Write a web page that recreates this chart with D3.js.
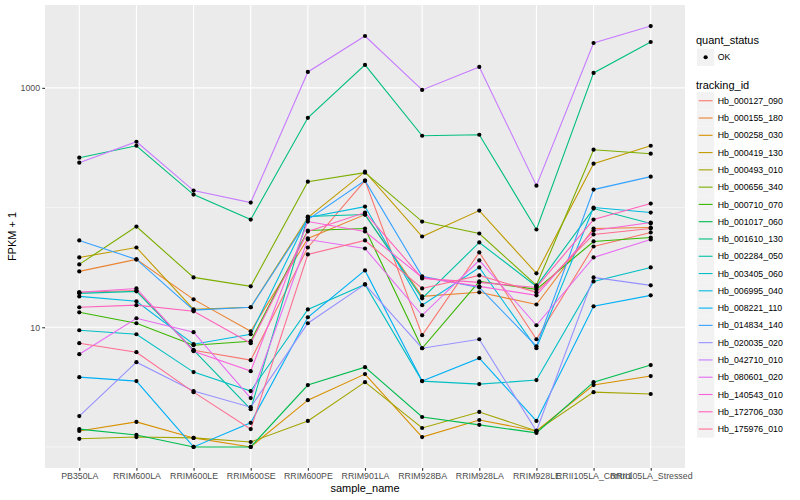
<!DOCTYPE html>
<html>
<head>
<meta charset="utf-8">
<script src="https://cdn.jsdelivr.net/npm/d3@7/dist/d3.min.js"></script>
<style>
body { margin: 0; background: #ffffff; }
text { font-family: "Liberation Sans", Arial, Helvetica, sans-serif; }
</style>
</head>
<body>
<div id="canvas"></div>
<script>
// sample names on the x axis
var sampleNames = ["PB350LA", "RRIM600LA", "RRIM600LE", "RRIM600SE", "RRIM600PE", "RRIM901LA",
    "RRIM928BA", "RRIM928LA", "RRIM928LE", "RRII105LA_Control", "RRII105LA_Stressed"];

// tracking ids (legend order) and their ggplot hue colours
var trackingIds = ["Hb_000127_090", "Hb_000155_180", "Hb_000258_030", "Hb_000419_130", "Hb_000493_010",
    "Hb_000656_340", "Hb_000710_070", "Hb_001017_060", "Hb_001610_130", "Hb_002284_050",
    "Hb_003405_060", "Hb_006995_040", "Hb_008221_110", "Hb_014834_140", "Hb_020035_020",
    "Hb_042710_010", "Hb_080601_020", "Hb_140543_010", "Hb_172706_030", "Hb_175976_010"];
var trackingColors = ["#F8766D", "#EA8331", "#D89000", "#C09B00", "#A3A500",
    "#7CAE00", "#39B600", "#00BB4E", "#00BF7D", "#00C1A3",
    "#00BFC4", "#00BAE0", "#00B0F6", "#35A2FF", "#9590FF",
    "#C77CFF", "#E76BF3", "#FA62DB", "#FF62BC", "#FF6C91"];

// FPKM per sample (same order as sampleNames)
var fpkm_000127_090 = [18.6, 19.3, 5.43, 4.31, 45.4, 166.9, 7.58, 41.2, 6.94, 46.3, 60.9];
var fpkm_000155_180 = [28.3, 35.9, 16.1, 8.26, 54.2, 86.4, 17.1, 18.6, 14.5, 65.8, 67.1];
var fpkm_000258_030 = [0.36, 0.62, 0.19, 0, 1.46, 3.06, 0.21, 0.68, 0.36, 2.29, 2.91];
var fpkm_000419_130 = [37.3, 45.4, 13.1, 13.7, 81.5, 198.5, 56.3, 93.4, 27.2, 231.6, 327.5];
var fpkm_000493_010 = [0.17, 0.21, 0.19, 0.10, 0.65, 2.48, 0.44, 0.96, 0.36, 1.87, 1.77];
var fpkm_000656_340 = [32.5, 68.4, 25.1, 20.96, 163.7, 194.7, 75.4, 59.7, 21.4, 303.3, 280.8];
var fpkm_000710_070 = [12.34, 9.8, 6.08, 6.65, 63.3, 65.8, 5.68, 23.17, 19.72, 51.1, 55.2];
var fpkm_001017_060 = [0.41, 0.26, 0, 0, 2.29, 3.64, 0.78, 0.53, 0.31, 2.48, 3.83];
var fpkm_001610_130 = [260, 327.5, 127.3, 78.4, 561, 1554, 397, 405, 64.6, 1332, 2416];
var fpkm_002284_050 = [18.2, 18.95, 5.43, 1.07, 83.1, 86.4, 16.44, 50.1, 20.96, 97.1, 72.6];
var fpkm_003405_060 = [8.44, 7.74, 3.22, 1.93, 13.1, 21.8, 2.55, 2.35, 2.62, 23.17, 30.62];
var fpkm_006995_040 = [17.1, 15.5, 6.22, 7.74, 81.5, 100.9, 14.3, 30.62, 5.68, 99, 89.9];
var fpkm_008221_110 = [2.83, 2.55, 0, 0.59, 11.12, 28.85, 2.55, 4.52, 0.65, 13.96, 17.48];
var fpkm_014834_140 = [52.1, 35.9, 12.9, 13.7, 78.4, 166.9, 25.6, 20.5, 5.94, 140.3, 180.3];
var fpkm_020035_020 = [0.81, 4.11, 1.93, 1.15, 9.8, 21.8, 5.68, 6.94, 0.36, 25.1, 21.4];
var fpkm_042710_010 = [236.1, 353.8, 137.6, 109.1, 1358, 2711, 961, 1495, 151.5, 2370, 3284];
var fpkm_080601_020 = [4.96, 10.89, 8.09, 1.56, 53.1, 44.5, 11.59, 35.2, 9.39, 37.3, 53.1];
var fpkm_140543_010 = [18.6, 20.1, 5.31, 3.3, 75.4, 62.1, 25.1, 20.96, 17.48, 63.3, 74];
var fpkm_172706_030 = [13.7, 14.3, 12.6, 6.36, 62.1, 89.9, 24.6, 22.7, 20.5, 78.4, 107];
var fpkm_175976_010 = [6.36, 5.19, 1.87, 0.41, 39.6, 52.1, 20.1, 26.1, 18.6, 58.6, 65.8];

var fpkmList = [fpkm_000127_090, fpkm_000155_180, fpkm_000258_030, fpkm_000419_130, fpkm_000493_010,
    fpkm_000656_340, fpkm_000710_070, fpkm_001017_060, fpkm_001610_130, fpkm_002284_050,
    fpkm_003405_060, fpkm_006995_040, fpkm_008221_110, fpkm_014834_140, fpkm_020035_020,
    fpkm_042710_010, fpkm_080601_020, fpkm_140543_010, fpkm_172706_030, fpkm_175976_010];

// y axis breaks
var majorBreaks = [10, 1000];
var minorBreaks = [1, 100, 10000];
var quantStatus = ["OK"];

// layout
var WIDTH = 800, HEIGHT = 500;
var PANEL = { left: 45, right: 685, top: 5, bottom: 468 };
var AXIS_TEXT = "#4D4D4D";
var KEY_SIZE = 17.28;

window.onload = function () {
    var svg = d3.select("#canvas").append("svg")
        .attr("width", WIDTH)
        .attr("height", HEIGHT);

    // series: one entry per tracking id, value = FPKM + 1
    var series = trackingIds.map(function (id, i) {
        return {
            id: id,
            color: trackingColors[i],
            values: fpkmList[i].map(function (v, j) { return { sample: sampleNames[j], value: v + 1 }; })
        };
    });

    // ggplot style 5% expansion on log scale
    var all = [];
    series.forEach(function (s) { s.values.forEach(function (d) { all.push(d.value); }); });
    var ext = d3.extent(all);
    var lo = Math.log10(ext[0]), hi = Math.log10(ext[1]);
    var pad = (hi - lo) * 0.05;

    var x = d3.scalePoint()
        .domain(sampleNames)
        .range([PANEL.left, PANEL.right])
        .padding(0.6);
    var y = d3.scaleLog()
        .domain([Math.pow(10, lo - pad), Math.pow(10, hi + pad)])
        .range([PANEL.bottom, PANEL.top]);
    var yDomain = y.domain();

    // panel background
    svg.append("rect")
        .attr("x", PANEL.left)
        .attr("y", PANEL.top)
        .attr("width", PANEL.right - PANEL.left)
        .attr("height", PANEL.bottom - PANEL.top)
        .attr("fill", "#EBEBEB");

    // grid lines
    svg.append("g").selectAll("line")
        .data(minorBreaks.filter(function (b) { return b >= yDomain[0] && b <= yDomain[1]; }))
        .enter().append("line")
        .attr("x1", PANEL.left).attr("x2", PANEL.right)
        .attr("y1", function (d) { return y(d); })
        .attr("y2", function (d) { return y(d); })
        .attr("stroke", "#FFFFFF")
        .attr("stroke-width", 0.55);
    svg.append("g").selectAll("line")
        .data(majorBreaks)
        .enter().append("line")
        .attr("x1", PANEL.left).attr("x2", PANEL.right)
        .attr("y1", function (d) { return y(d); })
        .attr("y2", function (d) { return y(d); })
        .attr("stroke", "#FFFFFF")
        .attr("stroke-width", 1.1);
    svg.append("g").selectAll("line")
        .data(sampleNames)
        .enter().append("line")
        .attr("x1", function (d) { return x(d); })
        .attr("x2", function (d) { return x(d); })
        .attr("y1", PANEL.top).attr("y2", PANEL.bottom)
        .attr("stroke", "#FFFFFF")
        .attr("stroke-width", 1.1);

    // lines
    var line = d3.line()
        .x(function (d) { return x(d.sample); })
        .y(function (d) { return y(d.value); });
    svg.append("g").selectAll("path")
        .data(series)
        .enter().append("path")
        .attr("d", function (s) { return line(s.values); })
        .attr("fill", "none")
        .attr("stroke", function (s) { return s.color; })
        .attr("stroke-width", 1.1);

    // points (quant_status = OK, black)
    series.forEach(function (s) {
        svg.append("g").selectAll("circle")
            .data(s.values)
            .enter().append("circle")
            .attr("cx", function (d) { return x(d.sample); })
            .attr("cy", function (d) { return y(d.value); })
            .attr("r", 2.1)
            .attr("fill", "#000000");
    });

    // axes
    var yAxis = svg.append("g")
        .attr("transform", "translate(" + PANEL.left + ",0)")
        .call(d3.axisLeft(y).tickValues(majorBreaks).tickFormat(d3.format("d")).tickSize(2.75).tickPadding(2.2));
    var xAxis = svg.append("g")
        .attr("transform", "translate(0," + PANEL.bottom + ")")
        .call(d3.axisBottom(x).tickSize(2.75).tickPadding(2.2));
    [yAxis, xAxis].forEach(function (a) {
        a.select(".domain").remove();
        a.selectAll(".tick line").attr("stroke", "#333333").attr("stroke-width", 1.1);
        a.selectAll(".tick text")
            .attr("fill", AXIS_TEXT)
            .style("font-size", "8.8px")
            .style("font-family", "'Liberation Sans', Arial, sans-serif");
    });

    // axis titles
    svg.append("text")
        .attr("x", (PANEL.left + PANEL.right) / 2)
        .attr("y", 492)
        .attr("text-anchor", "middle")
        .attr("font-size", "11px")
        .text("sample_name");
    svg.append("text")
        .attr("transform", "translate(16," + ((PANEL.top + PANEL.bottom) / 2) + ") rotate(-90)")
        .attr("text-anchor", "middle")
        .attr("font-size", "11px")
        .text("FPKM + 1");

    // legend: quant_status
    var legend = svg.append("g").attr("transform", "translate(696,0)");
    legend.append("text")
        .attr("x", 0).attr("y", 44)
        .attr("font-size", "11px")
        .text("quant_status");
    var qs = legend.selectAll(".qs")
        .data(quantStatus)
        .enter().append("g")
        .attr("transform", function (d, i) { return "translate(1," + (48.6 + i * KEY_SIZE) + ")"; });
    qs.append("rect")
        .attr("width", KEY_SIZE).attr("height", KEY_SIZE)
        .attr("fill", "#F2F2F2");
    qs.append("circle")
        .attr("cx", KEY_SIZE / 2).attr("cy", KEY_SIZE / 2)
        .attr("r", 2.1)
        .attr("fill", "#000000");
    qs.append("text")
        .attr("x", KEY_SIZE + 3.5).attr("y", KEY_SIZE / 2 + 3.1)
        .attr("font-size", "8.8px")
        .text(function (d) { return d; });

    // legend: tracking_id
    legend.append("text")
        .attr("x", 0).attr("y", 88.5)
        .attr("font-size", "11px")
        .text("tracking_id");
    var keys = legend.selectAll(".tid")
        .data(series)
        .enter().append("g")
        .attr("transform", function (d, i) { return "translate(1," + (92.1 + i * KEY_SIZE) + ")"; });
    keys.append("rect")
        .attr("width", KEY_SIZE).attr("height", KEY_SIZE)
        .attr("fill", "#F2F2F2");
    keys.append("line")
        .attr("x1", 1.7).attr("x2", KEY_SIZE - 1.7)
        .attr("y1", KEY_SIZE / 2).attr("y2", KEY_SIZE / 2)
        .attr("stroke", function (s) { return s.color; })
        .attr("stroke-width", 1.1);
    keys.append("text")
        .attr("x", KEY_SIZE + 3.5).attr("y", KEY_SIZE / 2 + 3.1)
        .attr("font-size", "8.8px")
        .text(function (s) { return s.id; });
};
</script>
</body>
</html>
